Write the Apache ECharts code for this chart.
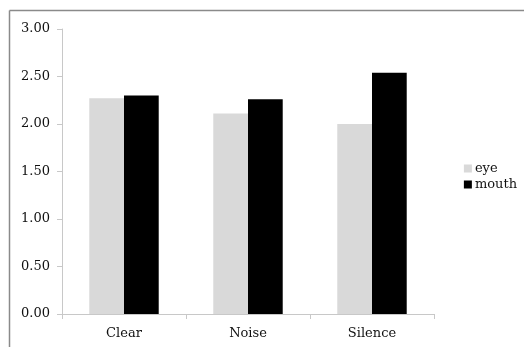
<!DOCTYPE html>
<html><head><meta charset="utf-8">
<script src="https://cdn.jsdelivr.net/npm/echarts@6/dist/echarts.min.js"></script>
<style>html,body{margin:0;padding:0;background:#fff}#c{width:524px;height:347px}</style>
</head><body><div id="c"></div>
<script>
const categories = ['Clear', 'Noise', 'Silence'];
const eyeValues = [2.27, 2.11, 2.00];
const mouthValues = [2.30, 2.26, 2.54];
const seriesNames = ['eye', 'mouth'];

const FONT = '"DejaVu Serif", "Liberation Serif", serif';
const chart = echarts.init(document.getElementById('c'), null, {renderer: 'canvas'});
chart.setOption({
  animation: false,
  backgroundColor: '#fff',
  grid: {left: 62, right: 90, top: 29, bottom: 33},
  legend: {
    orient: 'vertical', right: 2, top: 157, itemWidth: 8, itemHeight: 8, itemGap: 3,
    icon: 'rect',
    textStyle: {fontFamily: FONT, fontSize: 13, color: '#111', padding: [0,0,0,-2]},
    data: seriesNames
  },
  xAxis: {
    type: 'category', data: categories,
    axisLine: {lineStyle: {color: '#c8c8c8'}},
    axisTick: {show: true, length: 5, lineStyle: {color: '#c8c8c8'}},
    axisLabel: {fontFamily: FONT, fontSize: 13, color: '#111', margin: 13}
  },
  yAxis: {
    type: 'value', min: 0, max: 3, interval: 0.5,
    splitLine: {show: false},
    axisLine: {show: true, lineStyle: {color: '#c8c8c8'}},
    axisTick: {show: true, length: 5, lineStyle: {color: '#c8c8c8'}},
    axisLabel: {fontFamily: FONT, fontSize: 13, color: '#111', margin: 12,
      formatter: v => v.toFixed(2)}
  },
  series: [
    {name: seriesNames[0], type: 'bar', data: eyeValues, barGap: '0%', barCategoryGap: '44%',
     itemStyle: {color: '#d9d9d9'}},
    {name: seriesNames[1], type: 'bar', data: mouthValues, barGap: '0%', barCategoryGap: '44%',
     itemStyle: {color: '#000'}}
  ],
  graphic: [
    {type: 'line', shape: {x1: 9.5, y1: 10.5, x2: 524, y2: 10.5}, style: {stroke: '#8a8a8a', lineWidth: 1.5}, z: 100},
    {type: 'line', shape: {x1: 9.5, y1: 10.5, x2: 9.5, y2: 347}, style: {stroke: '#8a8a8a', lineWidth: 1.5}, z: 100}
  ]
});
</script></body></html>
